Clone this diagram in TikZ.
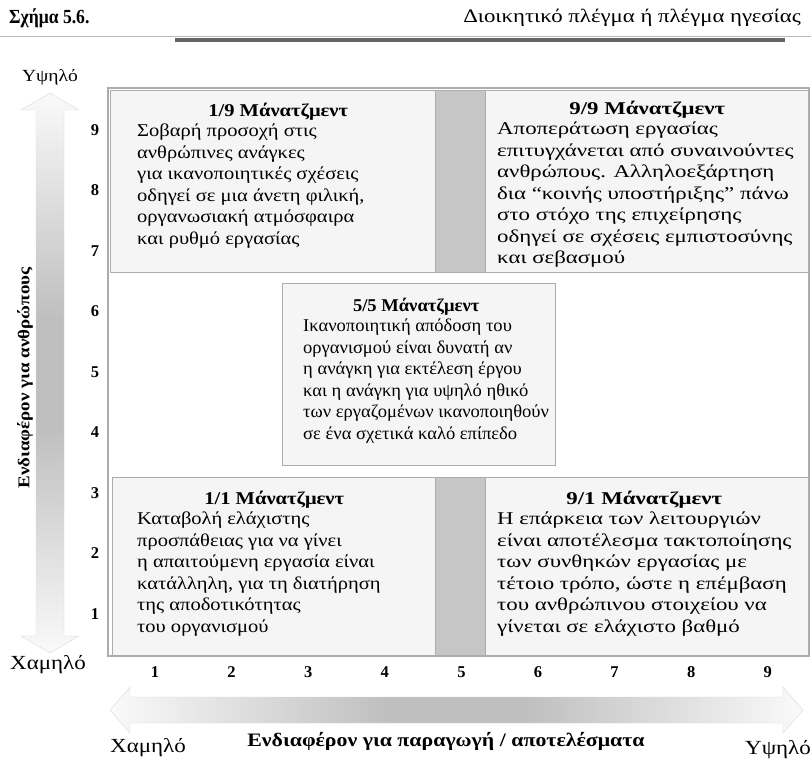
\documentclass[tikz,border=0pt]{standalone}
\usepackage{fontspec}
\setmainfont{Liberation Serif}
\newfontfamily\boxleft[FakeStretch=1.14]{Liberation Serif}
\newfontfamily\boxmid[FakeStretch=1.03]{Liberation Serif}
\newfontfamily\boxright[FakeStretch=1.27]{Liberation Serif}
\newfontfamily\wide[FakeStretch=1.15]{Liberation Serif}
\newfontfamily\narrow[FakeStretch=0.88]{Liberation Serif}
\newfontfamily\titlefont[FakeStretch=1.2]{Liberation Serif}
\usetikzlibrary{calc, positioning}

\pgfdeclarehorizontalshading{axisfade}{100bp}{color(0bp)=(gray!4); color(25bp)=(gray!4); color(45bp)=(gray!50); color(55bp)=(gray!50); color(75bp)=(gray!4); color(100bp)=(gray!4)}

\begin{document}
\begin{tikzpicture}[
    x=1pt, y=-1pt,
    quad/.style={draw=gray!65, line width=1.4pt, fill=gray!8, inner sep=0pt},
    strip/.style={draw=gray!65, line width=1.2pt, fill=gray!45},
    headL/.style={font=\fontsize{18}{21.5}\selectfont\boxleft\bfseries, inner sep=0pt},
    headM/.style={font=\fontsize{18}{21.5}\selectfont\boxmid\bfseries, inner sep=0pt},
    headR/.style={font=\fontsize{18}{21.5}\selectfont\boxright\bfseries, inner sep=0pt},
    bodyL/.style={font=\fontsize{18}{21.5}\selectfont\boxleft, align=left, inner sep=0pt, anchor=north west},
    bodyM/.style={font=\fontsize{18}{21.5}\selectfont\boxmid, align=left, inner sep=0pt, anchor=north west},
    bodyR/.style={font=\fontsize{18}{21.5}\selectfont\boxright, align=left, inner sep=0pt, anchor=north west},
    tick/.style={font=\fontsize{16.5}{18}\selectfont\bfseries, inner sep=0pt},
    level/.style={font=\fontsize{20}{22}\selectfont\wide, inner sep=0pt},
    axislab/.style={font=\fontsize{16.5}{18}\selectfont\wide\bfseries, inner sep=0pt}
]
\useasboundingbox (0,0) rectangle (811,765);

% επικεφαλίδα
\node[font=\fontsize{20}{22}\selectfont\narrow\bfseries, anchor=west, inner sep=0pt] (fig) at (9,18) {Σχήμα 5.6.};
\node[font=\fontsize{19}{22}\selectfont\titlefont, anchor=east, inner sep=0pt] (title) at (801,18) {Διοικητικό πλέγμα ή πλέγμα ηγεσίας};
\draw[gray!55, line width=0.8pt] (0,36) -- (811,36);
\draw[gray!80!black, line width=3.5pt] (175,40) -- (785,40);

% πλαίσιο πλέγματος
\draw[gray!65, line width=1.2pt] (108,88) rectangle (809,656);
\node[strip, minimum width=50pt, minimum height=182pt, anchor=north west] (s5top) at (435,90) {};
\node[strip, minimum width=50pt, minimum height=178pt, anchor=north west] (s5bot) at (435,477) {};

% τετράγωνα
\node[quad, minimum width=325pt, minimum height=182pt, anchor=north west] (q19) at (110,90) {};
\node[quad, minimum width=323pt, minimum height=182pt, anchor=north west] (q99) at (485,90) {};
\node[quad, minimum width=273pt, minimum height=182pt, anchor=north west] (q55) at (282,283) {};
\node[quad, minimum width=323pt, minimum height=178pt, anchor=north west] (q11) at (112,477) {};
\node[quad, minimum width=323pt, minimum height=178pt, anchor=north west] (q91) at (485,477) {};

% 1/9
\node[headL] (h19) at ($(q19.north)+(5,22)$) {1/9 Μάνατζμεντ};
\node[bodyL] (t19) at ($(q19.north west)+(27,34)$)
{Σοβαρή προσοχή στις\\ανθρώπινες ανάγκες\\για ικανοποιητικές σχέσεις\\οδηγεί σε μια άνετη φιλική,\\οργανωσιακή ατμόσφαιρα\\και ρυθμό εργασίας};

% 9/9
\node[headR] (h99) at ($(q99.north)+(0,20)$) {9/9 Μάνατζμεντ};
\node[bodyR] (t99) at ($(q99.north west)+(12,32)$)
{Αποπεράτωση εργασίας\\επιτυγχάνεται από συναινούντες\\ανθρώπους. Αλληλοεξάρτηση\\δια “κοινής υποστήριξης” πάνω\\στο στόχο της επιχείρησης\\οδηγεί σε σχέσεις εμπιστοσύνης\\και σεβασμού};

% 5/5
\node[headM] (h55) at ($(q55.north)+(-3,24)$) {5/5 Μάνατζμεντ};
\node[bodyM] (t55) at ($(q55.north west)+(21,36)$)
{Ικανοποιητική απόδοση του\\οργανισμού είναι δυνατή αν\\η ανάγκη για εκτέλεση έργου\\και η ανάγκη για υψηλό ηθικό\\των εργαζομένων ικανοποιηθούν\\σε ένα σχετικά καλό επίπεδο};

% 1/1
\node[headL] (h11) at ($(q11.north)+(0,23)$) {1/1 Μάνατζμεντ};
\node[bodyL] (t11) at ($(q11.north west)+(25,35)$)
{Καταβολή ελάχιστης\\προσπάθειας για να γίνει\\η απαιτούμενη εργασία είναι\\κατάλληλη, για τη διατήρηση\\της αποδοτικότητας\\του οργανισμού};

% 9/1
\node[headR] (h91) at ($(q91.north)+(-3,23)$) {9/1 Μάνατζμεντ};
\node[bodyR] (t91) at ($(q91.north west)+(12,35)$)
{Η επάρκεια των λειτουργιών\\είναι αποτέλεσμα τακτοποίησης\\των συνθηκών εργασίας με\\τέτοιο τρόπο, ώστε η επέμβαση\\του ανθρώπινου στοιχείου να\\γίνεται σε ελάχιστο βαθμό};

% κλίμακες
\foreach \n in {1,...,9} {
    \node[tick] (y\n) at (95,{614-(\n-1)*60.5}) {\n};
    \node[tick] (x\n) at ({155+(\n-1)*76.6},672) {\n};
}

% κάθετο βέλος
\coordinate (vT) at (50,93);
\coordinate (vB) at (50,653);
\shade[shading=axisfade, shading angle=90, draw=gray!30]
    (vT) -- ++(29,17) -- ++(-15,0) -- ($(vB)+(14,-17)$) -- ++(15,0) -- (vB)
    -- ++(-29,-17) -- ++(15,0) -- ($(vT)+(-14,17)$) -- ++(-15,0) -- cycle;
\node[level, font=\fontsize{17}{20}\selectfont\wide] (vhigh) at (50,77) {Υψηλό};
\node[level] (vlow) at (48,665) {Χαμηλό};
\node[axislab, rotate=90] (vlab) at (25,378) {Ενδιαφέρον για ανθρώπους};

% οριζόντιο βέλος
\coordinate (hL) at (110,710);
\coordinate (hR) at (803,710);
\shade[shading=axisfade, draw=gray!30]
    (hL) -- ++(20,-23) -- ++(0,10) -- ($(hR)+(-20,-13)$) -- ++(0,-10) -- (hR)
    -- ++(-20,23) -- ++(0,-10) -- ($(hL)+(20,13)$) -- ++(0,10) -- cycle;
\node[level] (hlow) at (148,748) {Χαμηλό};
\node[level] (hhigh) at (778,750) {Υψηλό};
\node[axislab, font=\fontsize{19}{21}\selectfont\wide\bfseries] (hlab) at (446,741) {Ενδιαφέρον για παραγωγή / αποτελέσματα};

\end{tikzpicture}
\end{document}
